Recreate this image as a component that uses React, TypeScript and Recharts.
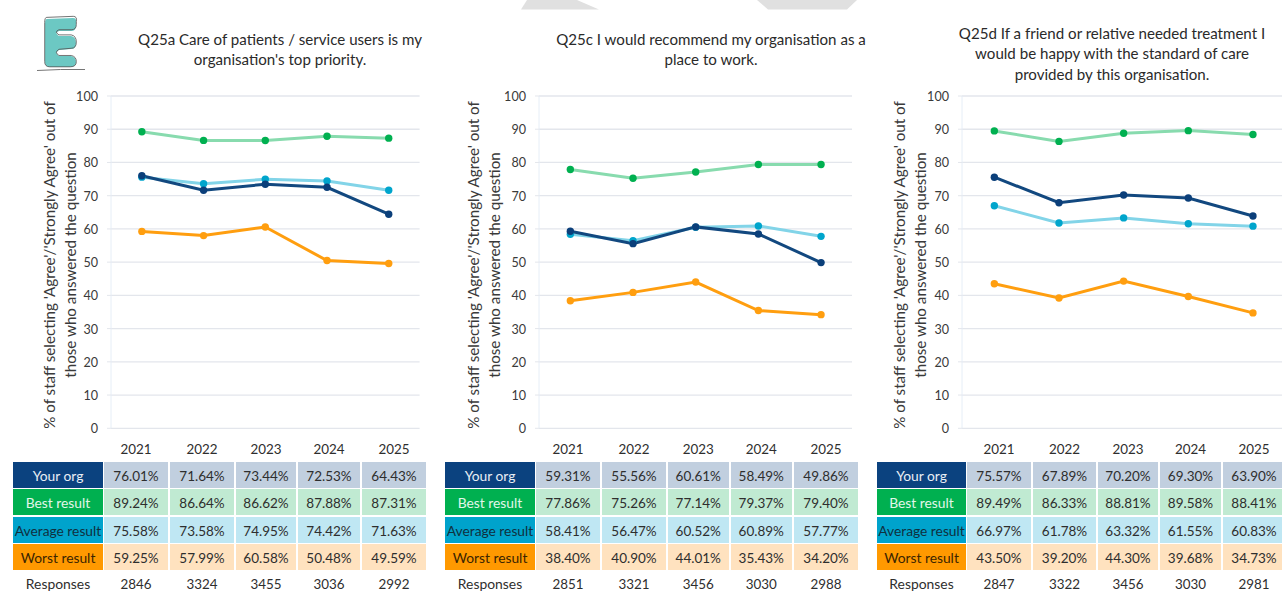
import { LineChart, Line, CartesianGrid, XAxis, YAxis, Label } from "recharts";

const years = ["2021", "2022", "2023", "2024", "2025"];
const yTicks = [0, 10, 20, 30, 40, 50, 60, 70, 80, 90, 100];
const rowNames = ["Your org", "Best result", "Average result", "Worst result"];
const yLabelLines = [
  "% of staff selecting 'Agree'/'Strongly Agree' out of",
  "those who answered the question",
];

const q25aTitle = ["Q25a Care of patients / service users is my", "organisation's top priority."];
const q25aOrg = [76.01, 71.64, 73.44, 72.53, 64.43];
const q25aBest = [89.24, 86.64, 86.62, 87.88, 87.31];
const q25aAverage = [75.58, 73.58, 74.95, 74.42, 71.63];
const q25aWorst = [59.25, 57.99, 60.58, 50.48, 49.59];
const q25aResponses = [2846, 3324, 3455, 3036, 2992];

const q25cTitle = ["Q25c I would recommend my organisation as a", "place to work."];
const q25cOrg = [59.31, 55.56, 60.61, 58.49, 49.86];
const q25cBest = [77.86, 75.26, 77.14, 79.37, 79.4];
const q25cAverage = [58.41, 56.47, 60.52, 60.89, 57.77];
const q25cWorst = [38.4, 40.9, 44.01, 35.43, 34.2];
const q25cResponses = [2851, 3321, 3456, 3030, 2988];

const q25dTitle = [
  "Q25d If a friend or relative needed treatment I",
  "would be happy with the standard of care",
  "provided by this organisation.",
];
const q25dOrg = [75.57, 67.89, 70.2, 69.3, 63.9];
const q25dBest = [89.49, 86.33, 88.81, 89.58, 88.41];
const q25dAverage = [66.97, 61.78, 63.32, 61.55, 60.83];
const q25dWorst = [43.5, 39.2, 44.3, 39.68, 34.73];
const q25dResponses = [2847, 3322, 3456, 3030, 2981];

const FONT = "Lato, sans-serif";
const TEXT = "#3a3a3a";
const GRID = "#e3e6ec";

const rowStyles = [
  { head: "#0b427f", headText: "#e8eef5", cell: "#c1cfdf" },
  { head: "#00b050", headText: "#e2f6ea", cell: "#c0ead2" },
  { head: "#00a3cc", headText: "#10303f", cell: "#bfe7f3" },
  { head: "#ff9900", headText: "#3a2400", cell: "#ffe2bf" },
];
const rowTops = [462, 489.3, 516.5, 543.7];
const ROW_H = 26;

const panels = [
  {
    title: q25aTitle, titleX: 280, titleTop: 29,
    org: q25aOrg, best: q25aBest, average: q25aAverage, worst: q25aWorst, responses: q25aResponses,
    plotLeft: 111.2, plotRight: 419.8, label1: 50, label2: 71,
    edges: [13, 103, 169, 235, 297, 361, 427],
  },
  {
    title: q25cTitle, titleX: 711, titleTop: 29,
    org: q25cOrg, best: q25cBest, average: q25cAverage, worst: q25cWorst, responses: q25cResponses,
    plotLeft: 538.6, plotRight: 852, label1: 474, label2: 495,
    edges: [445, 535, 601, 667, 729.5, 793, 859],
  },
  {
    title: q25dTitle, titleX: 1112, titleTop: 23,
    org: q25dOrg, best: q25dBest, average: q25dAverage, worst: q25dWorst, responses: q25dResponses,
    plotLeft: 961.7, plotRight: 1285, label1: 900, label2: 921,
    edges: [877, 966, 1032, 1097, 1159, 1222, 1286],
  },
];

const CHART_TOP = 86;
const AXIS_W = 84;
const PLOT_TOP = 96;
const PLOT_BOTTOM = 428.3;
const BOTTOM_ROOM = 12;

const centered = (left: number, top: number, width: number, height: number, nudge = 0) => ({
  position: "absolute" as const,
  left,
  top,
  width,
  height,
  lineHeight: `${height + nudge}px`,
  textAlign: "center" as const,
  whiteSpace: "nowrap" as const,
});

const E_SHAPE =
  "M47 19 L73 18 Q77 18 76 23 L76 26 Q76 31 71 31 L59 31 Q54 33 59 36 L71 36 Q76 37 76 43 Q76 49 71 49 L59 50 Q54 53 59 56 L71 56 Q76 57 76 62 Q76 67 70 67 L50 67 Q45 67 45 62 L45 24 Q45 19 47 19 Z";

const Logo = () => (
  <svg style={{ position: "absolute", left: 30, top: 10 }} width={60} height={66} viewBox="30 10 60 66">
    <path d={E_SHAPE} fill="#6cc8c3" />
    <path d={E_SHAPE} fill="none" stroke="#555" strokeWidth={0.8} transform="translate(-1.2,-2.2) scale(1.02,1.03)" />
    <path d="M37 70.5 Q60 69 85 69.5" fill="none" stroke="#666" strokeWidth={0.9} />
  </svg>
);

const Watermark = () => (
  <svg style={{ position: "absolute", left: 0, top: 0 }} width={1282} height={12}>
    <polygon points="527,0 577,0 599,9.5 521,9.5" fill="#e0e0e0" />
    <polygon points="757,0 857,0 847,9.5 768,9.5" fill="#e0e0e0" />
  </svg>
);

const Panel = ({ p }: { p: (typeof panels)[number] }) => {
  const data = years.map((year, i) => ({
    year,
    org: p.org[i],
    best: p.best[i],
    average: p.average[i],
    worst: p.worst[i],
  }));
  const rows = [p.org, p.best, p.average, p.worst];
  const chartLeft = p.plotLeft - AXIS_W;
  const width = p.plotRight - chartLeft;
  const height = PLOT_BOTTOM - CHART_TOP + BOTTOM_ROOM;
  return (
    <>
      <div style={{ fontSize: 15.1, color: "#2a2a2a" }}>
        {p.title.map((line, i) => (
          <div key={line} style={centered(p.titleX - 180, p.titleTop + i * 20.4, 360, 20)}>
            {line}
          </div>
        ))}
      </div>

      <div style={{ position: "absolute", left: chartLeft, top: CHART_TOP }}>
        <LineChart
          width={width}
          height={height}
          data={data}
          margin={{ top: PLOT_TOP - CHART_TOP, right: 0, bottom: BOTTOM_ROOM, left: 0 }}
        >
          <CartesianGrid horizontal vertical={false} stroke={GRID} strokeWidth={1.3} />
          <XAxis dataKey="year" hide height={0} scale="band" />
          <YAxis
            width={AXIS_W}
            domain={[0, 100]}
            ticks={yTicks}
            interval={0}
            tickSize={4}
            tickMargin={9}
            stroke="#e6eef7"
            tickLine={{ stroke: GRID }}
            tick={{ fontSize: 12.6, fill: TEXT, fontFamily: FONT, dy: 0.5 }}
          >
            <Label
              content={() => (
                <g fontSize={15.2} fill={TEXT} fontFamily={FONT} textAnchor="middle">
                  <text transform={`translate(${p.label1 - chartLeft + 5},${265 - CHART_TOP}) rotate(-90)`}>
                    {yLabelLines[0]}
                  </text>
                  <text transform={`translate(${p.label2 - chartLeft + 5},${265 - CHART_TOP}) rotate(-90)`}>
                    {yLabelLines[1]}
                  </text>
                </g>
              )}
            />
          </YAxis>
          <Line dataKey="best" stroke="#88dbae" strokeWidth={3} isAnimationActive={false} dot={{ r: 3.7, fill: "#00b050", stroke: "none" }} activeDot={false} />
          <Line dataKey="worst" stroke="#ff9e0f" strokeWidth={3} isAnimationActive={false} dot={{ r: 3.7, fill: "#ff9e0f", stroke: "none" }} activeDot={false} />
          <Line dataKey="average" stroke="#82d4e8" strokeWidth={3} isAnimationActive={false} dot={{ r: 3.7, fill: "#00a5cc", stroke: "none" }} activeDot={false} />
          <Line dataKey="org" stroke="#12487f" strokeWidth={3} isAnimationActive={false} dot={{ r: 3.7, fill: "#0b3f7a", stroke: "none" }} activeDot={false} />
        </LineChart>
      </div>

      <div style={{ fontSize: 13.4, color: "#2e2e2e" }}>
        {years.map((year, i) => (
          <div key={year} style={centered(p.edges[i + 1], 439, p.edges[i + 2] - p.edges[i + 1], 20)}>
            {year}
          </div>
        ))}
        {rows.map((values, r) => (
          <div key={rowNames[r]}>
            <div
              style={{
                ...centered(p.edges[0], rowTops[r], p.edges[1] - p.edges[0], ROW_H, 2),
                background: rowStyles[r].head,
                color: rowStyles[r].headText,
                fontSize: 13.8,
              }}
            >
              {rowNames[r]}
            </div>
            {values.map((v, i) => (
              <div
                key={years[i]}
                style={{
                  ...centered(p.edges[i + 1] + 1, rowTops[r], p.edges[i + 2] - p.edges[i + 1] - 2, ROW_H, 2),
                  background: rowStyles[r].cell,
                  fontSize: 13.5,
                }}
              >
                {v.toFixed(2)}%
              </div>
            ))}
          </div>
        ))}
        <div style={{ ...centered(p.edges[0], 574, p.edges[1] - p.edges[0], 20), fontSize: 13.9 }}>Responses</div>
        {p.responses.map((n, i) => (
          <div key={years[i]} style={centered(p.edges[i + 1], 574, p.edges[i + 2] - p.edges[i + 1], 20)}>
            {n}
          </div>
        ))}
      </div>
    </>
  );
};

export default function App() {
  return (
    <div
      style={{
        position: "absolute",
        left: 0,
        top: 0,
        width: 1282,
        height: 592,
        overflow: "hidden",
        background: "#fff",
        fontFamily: FONT,
      }}
    >
      <Watermark />
      <Logo />
      {panels.map((p) => (
        <Panel key={p.title[0]} p={p} />
      ))}
    </div>
  );
}
